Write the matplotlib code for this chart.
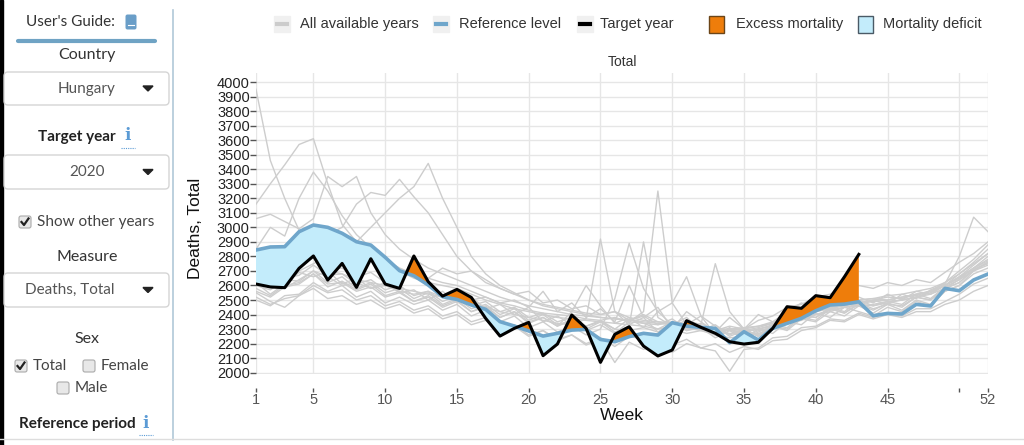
import matplotlib.pyplot as plt
from matplotlib.patches import FancyBboxPatch, Rectangle, Polygon

weeks = list(range(1, 53))

# target year 2020 (weeks 1-43)
target_2020 = [2610, 2590, 2585, 2718, 2803, 2637, 2752, 2587, 2784, 2610, 2580, 2803, 2626,
               2527, 2573, 2518, 2374, 2252, 2305, 2346, 2117, 2197, 2397, 2305, 2071, 2264,
               2316, 2183, 2115, 2156, 2358, 2312, 2271, 2213, 2197, 2209, 2305, 2454, 2443,
               2530, 2516, 2660, 2814]

reference = [2844, 2865, 2867, 2970, 3016, 3000, 2959, 2901, 2878, 2794, 2702, 2667, 2603,
             2523, 2504, 2466, 2436, 2351, 2321, 2287, 2252, 2271, 2293, 2298, 2229, 2213,
             2248, 2271, 2259, 2344, 2321, 2312, 2305, 2206, 2282, 2225, 2305, 2339, 2374,
             2426, 2466, 2472, 2488, 2392, 2408, 2404, 2470, 2459, 2580, 2564, 2638, 2679]

# other available years
other_1 = [3950, 3460, 3200, 2980, 2820, 2700, 2680, 2640, 2620, 2600, 2580, 2560, 2540,
           2520, 2500, 2480, 2450, 2420, 2400, 2380, 2360, 2340, 2330, 2320, 2350, 2300,
           2290, 2310, 2280, 2300, 2270, 2290, 2260, 2240, 2250, 2270, 2300, 2340, 2360,
           2400, 2430, 2450, 2470, 2460, 2480, 2500, 2520, 2550, 2600, 2650, 2720, 2780]
other_2 = [3160, 3300, 3430, 3570, 3610, 3300, 3020, 2900, 2820, 2760, 2700, 2650, 2620,
           2600, 2580, 2540, 2500, 2470, 2440, 2420, 2400, 2380, 2370, 2360, 2350, 2340,
           2330, 2320, 2300, 2320, 2310, 2290, 2280, 2300, 2310, 2320, 2350, 2380, 2400,
           2420, 2450, 2470, 2480, 2500, 2520, 2510, 2540, 2560, 2600, 2680, 2750, 2820]
other_3 = [2850, 3000, 2940, 3200, 3380, 3250, 3080, 2950, 2860, 2780, 2720, 2680, 2650,
           2620, 2600, 2560, 2520, 2480, 2460, 2430, 2410, 2400, 2390, 2370, 2360, 2380,
           2350, 2340, 2330, 2350, 2320, 2300, 2290, 2270, 2280, 2300, 2320, 2360, 2390,
           2420, 2440, 2460, 2480, 2490, 2500, 2520, 2530, 2560, 2620, 2680, 2760, 2850]
other_4 = [3060, 3090, 3040, 2990, 3060, 3350, 3280, 3350, 3100, 2950, 2850, 2780, 2720,
           2680, 2640, 2600, 2560, 2520, 2490, 2460, 2440, 2420, 2400, 2390, 2380, 2370,
           2360, 2400, 2350, 2340, 2330, 2320, 2300, 2290, 2300, 2320, 2340, 2370, 2400,
           2430, 2450, 2470, 2500, 2510, 2530, 2540, 2560, 2580, 2620, 2700, 2780, 2880]
other_5 = [2600, 2620, 2650, 2700, 2750, 2800, 2850, 2900, 3000, 3100, 3200, 3280, 3440,
           3200, 3000, 2800, 2680, 2600, 2550, 2500, 2460, 2440, 2420, 2400, 2380, 2370,
           2360, 2350, 2340, 2330, 2320, 2300, 2310, 2290, 2280, 2300, 2330, 2360, 2380,
           2400, 2420, 2450, 2460, 2470, 2490, 2500, 2520, 2540, 2580, 2640, 2700, 2760]
other_6 = [2700, 2680, 2720, 2800, 2880, 2950, 3000, 3160, 3240, 3220, 3330, 3210, 3100,
           2950, 2800, 2700, 2640, 2580, 2540, 2500, 2470, 2450, 2430, 2410, 2400, 2420,
           2380, 2360, 2350, 2340, 2330, 2310, 2300, 2300, 2290, 2310, 2340, 2370, 2400,
           2430, 2460, 2480, 2500, 2510, 2500, 2520, 2540, 2560, 2600, 2660, 2720, 2800]
other_7 = [2620, 2540, 2610, 2690, 2660, 2700, 2610, 2650, 2580, 2620, 2550, 2570, 2500,
           2560, 2480, 2520, 2440, 2470, 2400, 2450, 2350, 2390, 2330, 2370, 2920, 2420,
           2330, 2380, 2280, 2340, 2290, 2310, 2240, 2290, 2230, 2280, 2320, 2290, 2370,
           2350, 2420, 2390, 2460, 2410, 2470, 2430, 2500, 2470, 2560, 2600, 2680, 2720]
other_8 = [2560, 2520, 2590, 2610, 2680, 2590, 2630, 2570, 2610, 2530, 2560, 2490, 2530,
           2460, 2500, 2420, 2460, 2380, 2420, 2350, 2380, 2320, 2360, 2290, 2330, 2270,
           2350, 2420, 3250, 2480, 2330, 2390, 2260, 2310, 2240, 2300, 2270, 2350, 2330,
           2410, 2380, 2450, 2420, 2390, 2450, 2420, 2490, 2460, 2560, 2600, 2700, 2740]
other_9 = [2500, 2460, 2530, 2540, 2620, 2560, 2600, 2520, 2560, 2480, 2520, 2470, 2500,
           2430, 2470, 2390, 2430, 2350, 2390, 2310, 2350, 2280, 2320, 2260, 2300, 2510,
           2890, 2580, 2420, 2330, 2380, 2290, 2330, 2260, 2300, 2250, 2320, 2300, 2380,
           2360, 2440, 2410, 2470, 2430, 2480, 2450, 2520, 2500, 2580, 2620, 2710, 2750]
other_10 = [2600, 2570, 2640, 2630, 2700, 2620, 2660, 2580, 2620, 2550, 2580, 2510, 2550,
            2470, 2510, 2440, 2470, 2400, 2440, 2360, 2400, 2330, 2360, 2300, 2350, 2280,
            2320, 2900, 2380, 2320, 2360, 2330, 2750, 2420, 2300, 2250, 2330, 2360, 2400,
            2380, 2450, 2420, 2500, 2460, 2490, 2470, 2540, 2510, 2590, 2640, 2720, 2770]
other_11 = [2580, 2530, 2600, 2620, 2680, 2610, 2620, 2560, 2590, 2520, 2550, 2490, 2520,
            2450, 2490, 2420, 2450, 2380, 2420, 2340, 2380, 2320, 2420, 2600, 2460, 2340,
            2380, 2310, 2420, 2480, 2660, 2390, 2320, 2250, 2290, 2260, 2330, 2310, 2390,
            2380, 2440, 2410, 2480, 2440, 2470, 2460, 2520, 2500, 2580, 2620, 2710, 2760]
other_12 = [2640, 2590, 2650, 2670, 2740, 2670, 2680, 2610, 2640, 2570, 2600, 2530, 2560,
            2490, 2530, 2460, 2490, 2420, 2450, 2380, 2410, 2350, 2380, 2320, 2360, 2300,
            2370, 2340, 2300, 2350, 2290, 2320, 2260, 2300, 2240, 2290, 2310, 2360, 2370,
            2440, 2430, 2490, 2460, 2500, 2470, 2540, 2510, 2570, 2610, 2800, 3070, 2970]
other_13 = [2520, 2470, 2510, 2530, 2580, 2510, 2530, 2470, 2500, 2440, 2470, 2410, 2440,
            2370, 2400, 2330, 2360, 2290, 2320, 2250, 2290, 2220, 2260, 2190, 2230, 2070,
            2210, 2160, 2190, 2140, 2200, 2170, 2150, 2010, 2160, 2170, 2240, 2250, 2310,
            2320, 2370, 2360, 2410, 2380, 2410, 2390, 2440, 2440, 2490, 2540, 2610, 2650]
other_14 = [2680, 2640, 2710, 2740, 2790, 2710, 2720, 2660, 2690, 2620, 2660, 2700, 2650,
            2720, 2680, 2700, 2620, 2580, 2540, 2560, 2480, 2500, 2440, 2460, 2400, 2420,
            2360, 2390, 2330, 2370, 2300, 2340, 2290, 2320, 2300, 2360, 2390, 2450, 2470,
            2520, 2540, 2590, 2600, 2580, 2620, 2600, 2640, 2620, 2690, 2760, 2820, 2900]
other_15 = [2550, 2490, 2450, 2530, 2600, 2550, 2570, 2500, 2530, 2460, 2490, 2430, 2460,
            2390, 2420, 2350, 2380, 2300, 2330, 2260, 2290, 2230, 2260, 2200, 2240, 2180,
            2250, 2230, 2270, 2190, 2230, 2170, 2200, 2140, 2180, 2160, 2220, 2230, 2290,
            2310, 2360, 2350, 2400, 2370, 2400, 2380, 2420, 2420, 2470, 2500, 2560, 2600]
other_16 = [2600, 2620, 2580, 2640, 2700, 2660, 2600, 2620, 2580, 2600, 2560, 2540, 2560,
            2520, 2540, 2500, 2520, 2480, 2500, 2450, 2560, 2420, 2480, 2380, 2440, 2350,
            2600, 2380, 2450, 2300, 2420, 2350, 2280, 2380, 2300, 2400, 2350, 2420, 2480,
            2440, 2500, 2460, 2520, 2480, 2540, 2500, 2560, 2540, 2600, 2660, 2740, 2820]

other_years = [other_1, other_2, other_3, other_4, other_5, other_6, other_7, other_8,
               other_9, other_10, other_11, other_12, other_13, other_14, other_15, other_16]

y_ticks = list(range(2000, 4001, 100))
x_ticks = [1, 5, 10, 15, 20, 25, 30, 35, 40, 45, 50, 52]
x_labels = ['1', '5', '10', '15', '20', '25', '30', '35', '40', '45', '', '52']

ORANGE = '#ee7d0b'
LIGHTBLUE = '#c3ecfb'
REFBLUE = '#6fa6cb'
W, H = 1024, 445

plt.rcParams['font.family'] = ['Liberation Sans', 'DejaVu Sans']
fig = plt.figure(figsize=(W / 100, H / 100), dpi=100)

# background canvas in pixel coordinates for the sidebar and legend
bg = fig.add_axes([0, 0, 1, 1])
bg.set_xlim(0, W)
bg.set_ylim(H, 0)
bg.axis('off')

SIDE = 'Lato'
bg.add_patch(Rectangle((0, 0), 3, H, color='black'))
bg.plot([173, 173], [10, 440], color='#b0c8d8', lw=1.2)
bg.plot([0, W], [439, 439], color='#dddddd', lw=1)

bg.text(70, 22, "User's Guide:", family=SIDE, fontsize=11, color='#333333', ha='center', va='center')
bg.add_patch(FancyBboxPatch((126, 15), 10, 14, boxstyle='round,pad=0.5,rounding_size=2',
                            fc='#6a9ec8', ec='none'))
bg.plot([128, 134], [25, 25], color='white', lw=0.8)
bg.plot([18, 155], [41, 41], color='#6fa3c4', lw=3, solid_capstyle='round')


def dropdown(y0, y1, label, cx):
    bg.add_patch(FancyBboxPatch((4, y0), 165, y1 - y0, boxstyle='round,pad=0,rounding_size=4',
                                fc='white', ec='#d5d5d5', lw=1))
    yc = (y0 + y1) / 2
    bg.text(cx, yc, label, family=SIDE, fontsize=11, color='#555555', ha='center', va='center')
    bg.add_patch(Polygon([[143, yc - 2.5], [153, yc - 2.5], [148, yc + 2.5]], color='#222222'))


def checkbox(x, y, checked, label):
    bg.add_patch(FancyBboxPatch((x - 6, y - 6), 12, 12, boxstyle='round,pad=0,rounding_size=2',
                                fc='#e8e8e8', ec='#aaaaaa', lw=0.8))
    if checked:
        bg.plot([x - 3.5, x - 1, x + 3.5], [y, y + 3, y - 3.5], color='#222222', lw=1.6)
    bg.text(x + 12, y, label, family=SIDE, fontsize=11, color='#444444', ha='left', va='center')


def info(x, y):
    bg.text(x, y, 'i', family='DejaVu Serif', fontsize=12, weight='bold', color='#5b9bd5',
            ha='center', va='center')
    bg.plot([x - 7, x + 7], [y + 12, y + 12], color='#5b9bd5', lw=0.8, ls=(0, (1, 1)))


bg.text(87, 55, 'Country', family=SIDE, fontsize=11.5, color='#333333', ha='center', va='center')
dropdown(72, 105, 'Hungary', 87)
bg.text(77, 137, 'Target year', family=SIDE, fontsize=11, weight='bold', color='#222222',
        ha='center', va='center')
info(128, 136)
dropdown(155, 189, '2020', 87)
checkbox(25, 222, True, 'Show other years')
bg.text(87, 257, 'Measure', family=SIDE, fontsize=11.5, color='#333333', ha='center', va='center')
dropdown(273, 307, 'Deaths, Total', 70)
bg.text(87, 339, 'Sex', family=SIDE, fontsize=11.5, color='#333333', ha='center', va='center')
checkbox(21, 366, True, 'Total')
checkbox(89, 366, False, 'Female')
checkbox(63, 388, False, 'Male')
bg.text(77, 424, 'Reference period', family=SIDE, fontsize=11, weight='bold', color='#222222',
        ha='center', va='center')
info(146, 423)

# legend
LEG_Y = 24
for sx, col in [(282, '#cccccc'), (441, REFBLUE), (585, 'black')]:
    bg.add_patch(Rectangle((sx - 8, LEG_Y - 8), 16, 16, color='#f0f0f0'))
    bg.plot([sx - 5, sx + 5], [LEG_Y, LEG_Y], color=col, lw=3)
bg.text(300, LEG_Y, 'All available years', fontsize=10.5, color='#333333', va='center')
bg.text(459, LEG_Y, 'Reference level', fontsize=10.5, color='#333333', va='center')
bg.text(600, LEG_Y, 'Target year', fontsize=10.5, color='#333333', va='center')
bg.add_patch(Rectangle((709, LEG_Y - 8), 15, 17, fc=ORANGE, ec='#6b4518', lw=1))
bg.text(736, LEG_Y, 'Excess mortality', fontsize=10.5, color='#333333', va='center')
bg.add_patch(Rectangle((858, LEG_Y - 8), 15, 17, fc=LIGHTBLUE, ec='#4a5a66', lw=1))
bg.text(883, LEG_Y, 'Mortality deficit', fontsize=10.5, color='#333333', va='center')

bg.text(622, 62, 'Total', fontsize=10, color='#333333', ha='center', va='center')
bg.text(196, 228, 'Deaths, Total', fontsize=12.5, color='#111111', rotation=90,
        ha='center', va='center')
bg.text(622, 416, 'Week', fontsize=12.5, color='#111111', ha='center', va='center')

# main chart
ax = fig.add_axes([256 / W, 1 - 374 / H, (988 - 256) / W, (374 - 73) / H])
ax.set_facecolor('none')
for yr in other_years:
    ax.plot(weeks, yr, color='#cdcdcd', lw=1, zorder=2)

tw = weeks[:len(target_2020)]
ref_t = reference[:len(target_2020)]
ax.fill_between(tw, target_2020, ref_t, where=[t >= r for t, r in zip(target_2020, ref_t)],
                interpolate=True, color=ORANGE, lw=0, zorder=3)
ax.fill_between(tw, target_2020, ref_t, where=[t <= r for t, r in zip(target_2020, ref_t)],
                interpolate=True, color=LIGHTBLUE, lw=0, zorder=3)
ax.plot(weeks, reference, color=REFBLUE, lw=2.6, zorder=4, solid_joinstyle='round')
ax.plot(tw, target_2020, color='black', lw=2.2, zorder=5, solid_joinstyle='round')

ax.set_xlim(1, 52)
ax.set_ylim(1991, 4062)
ax.set_yticks(y_ticks)
ax.set_xticks(x_ticks)
ax.set_xticklabels(x_labels)
ax.grid(color='#e6e6e6', lw=1, zorder=0)
ax.set_axisbelow(True)
for s in ax.spines.values():
    s.set_visible(False)
ax.spines['bottom'].set_position(('outward', 10))
ax.tick_params(axis='y', length=4, width=1, color='#555555', pad=0.5, labelsize=10.5,
               labelcolor='#222222')
ax.tick_params(axis='x', length=3, width=1, color='#555555', pad=1, labelsize=10.5,
               labelcolor='#555555')

fig.savefig('out.png', dpi=100)
